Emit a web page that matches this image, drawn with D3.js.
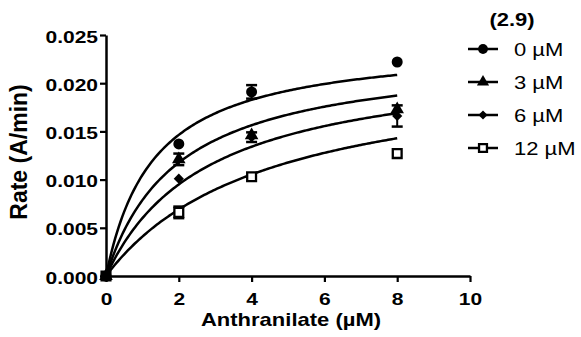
<!DOCTYPE html>
<html>
<head>
<meta charset="utf-8">
<script src="https://cdn.jsdelivr.net/npm/d3@7"></script>
<style>
body{margin:0;background:#fff;}
text{font-family:"Liberation Sans",Arial,sans-serif;fill:#000;}
</style>
</head>
<body>
<script>
var conc = [0, 2, 4, 8];
var seriesNames = ["0 µM", "3 µM", "6 µM", "12 µM"];
var rate0 = [0, 0.0137, 0.0191, 0.0222];
var rate3 = [0, 0.0121, 0.0146, 0.0173];
var rate6 = [0, 0.0101, 0.0144, 0.0166];
var rate12 = [0, 0.0066, 0.0103, 0.0127];
var err0 = [0, 0, 0.0007, 0];
var err3 = [0, 0.0006, 0, 0];
var err6 = [0, 0, 0.0005, 0.0011];
var err12 = [0, 0.0006, 0, 0];
// fitted Michaelis-Menten curve parameters, one per series
var vmax = [0.0243, 0.0233, 0.0228, 0.0222];
var km = [1.32, 1.96, 2.8, 4.43];
var xTicks = [0, 2, 4, 6, 8, 10];
var yTicks = [0, 0.005, 0.010, 0.015, 0.020, 0.025];
var legendTitle = "(2.9)";

var rates = [rate0, rate3, rate6, rate12];
var errs = [err0, err3, err6, err12];
var squash = 0.82;

var svg = d3.select("body").append("svg").attr("width", 581).attr("height", 337);

var x = d3.scaleLinear().domain([0, 10]).range([106, 470]);
var y = d3.scaleLinear().domain([0, 0.025]).range([276, 35]);

// axes
var xAxis = svg.append("g").attr("transform", "translate(0,276)")
      .call(d3.axisBottom(x).tickValues(xTicks).tickSize(6).tickSizeOuter(0).tickFormat(d3.format("d")));
var yAxis = svg.append("g").attr("transform", "translate(106,0)")
      .call(d3.axisLeft(y).tickValues(yTicks).tickSize(6).tickSizeOuter(0).tickFormat(d3.format(".3f")));

svg.selectAll(".domain").attr("stroke", "#000").attr("stroke-width", 2.5);
svg.selectAll(".tick line").attr("stroke", "#000").attr("stroke-width", 2.2);
xAxis.selectAll(".tick text")
      .attr("y", 29 / squash).attr("dy", null)
      .attr("transform", "scale(1," + squash + ")")
      .attr("font-size", 21).attr("font-weight", "bold");
yAxis.selectAll(".tick text")
      .attr("x", -8).attr("y", 7 / squash).attr("dy", null)
      .attr("transform", "scale(1," + squash + ")")
      .attr("font-size", 21).attr("font-weight", "bold");

// axis titles
svg.append("text").text("Anthranilate (µM)")
      .attr("text-anchor", "middle")
      .attr("transform", "translate(291,326) scale(1," + squash + ")")
      .attr("font-size", 22).attr("font-weight", "bold");
svg.append("text").text("Rate (A/min)")
      .attr("text-anchor", "middle")
      .attr("transform", "translate(27,152) rotate(-90)")
      .attr("font-size", 23).attr("font-weight", "bold");

// fitted curves
var curveX = d3.range(0, 8.0001, 0.05);
var line = d3.line().x(function(d){ return x(d[0]); }).y(function(d){ return y(d[1]); });
svg.selectAll("path.fit")
      .data(vmax)
      .enter().append("path")
            .attr("class", "fit")
            .attr("fill", "none")
            .attr("stroke", "#000")
            .attr("stroke-width", 2.5)
            .attr("d", function(v, i){
                  return line(curveX.map(function(c){ return [c, v * c / (km[i] + c)]; }));
            });

// error bars
rates.forEach(function(r, s){
      var g = svg.append("g");
      conc.forEach(function(c, j){
            var e = errs[s][j];
            if (!e) return;
            g.append("line").attr("x1", x(c)).attr("x2", x(c))
                  .attr("y1", y(r[j] - e)).attr("y2", y(r[j] + e))
                  .attr("stroke", "#000").attr("stroke-width", 2);
            [r[j] - e, r[j] + e].forEach(function(v){
                  g.append("line").attr("x1", x(c) - 5.5).attr("x2", x(c) + 5.5)
                        .attr("y1", y(v)).attr("y2", y(v))
                        .attr("stroke", "#000").attr("stroke-width", 2.5);
            });
      });
});

// marker shapes
function marker(sel, s, scale){
      var sym = [d3.symbolCircle, d3.symbolTriangle, d3.symbolSquare, d3.symbolSquare][s];
      var size = [95, 80, 52, 78][s] * scale;
      sel.append("path")
            .attr("d", d3.symbol().type(sym).size(size)())
            .attr("fill", s == 3 ? "#fff" : "#000")
            .attr("stroke", s == 3 ? "#000" : "none")
            .attr("stroke-width", 2.3)
            .attr("transform", function(){ return d3.select(this.parentNode).attr("data-t") + (s == 2 ? " rotate(45)" : ""); });
}

// open squares first so the filled markers sit on top
[3, 2, 1, 0].forEach(function(s){
      var r = rates[s];
      conc.forEach(function(c, j){
            var g = svg.append("g").attr("data-t", "translate(" + x(c) + "," + y(r[j]) + ")");
            marker(g, s, 1);
      });
});

// legend
svg.append("text").text(legendTitle)
      .attr("text-anchor", "middle")
      .attr("transform", "translate(512,26) scale(1," + squash + ")")
      .attr("font-size", 22).attr("font-weight", "bold");

seriesNames.forEach(function(name, s){
      var ly = 49 + s * 33;
      svg.append("line").attr("x1", 468).attr("x2", 498).attr("y1", ly).attr("y2", ly)
            .attr("stroke", "#000").attr("stroke-width", 2.5);
      var g = svg.append("g").attr("data-t", "translate(483," + ly + ")");
      marker(g, s, 0.8);
      svg.append("text").text(name)
            .attr("transform", "translate(514," + (ly + 6.5) + ") scale(1," + squash + ")")
            .attr("font-size", 22);
});
</script>
</body>
</html>
